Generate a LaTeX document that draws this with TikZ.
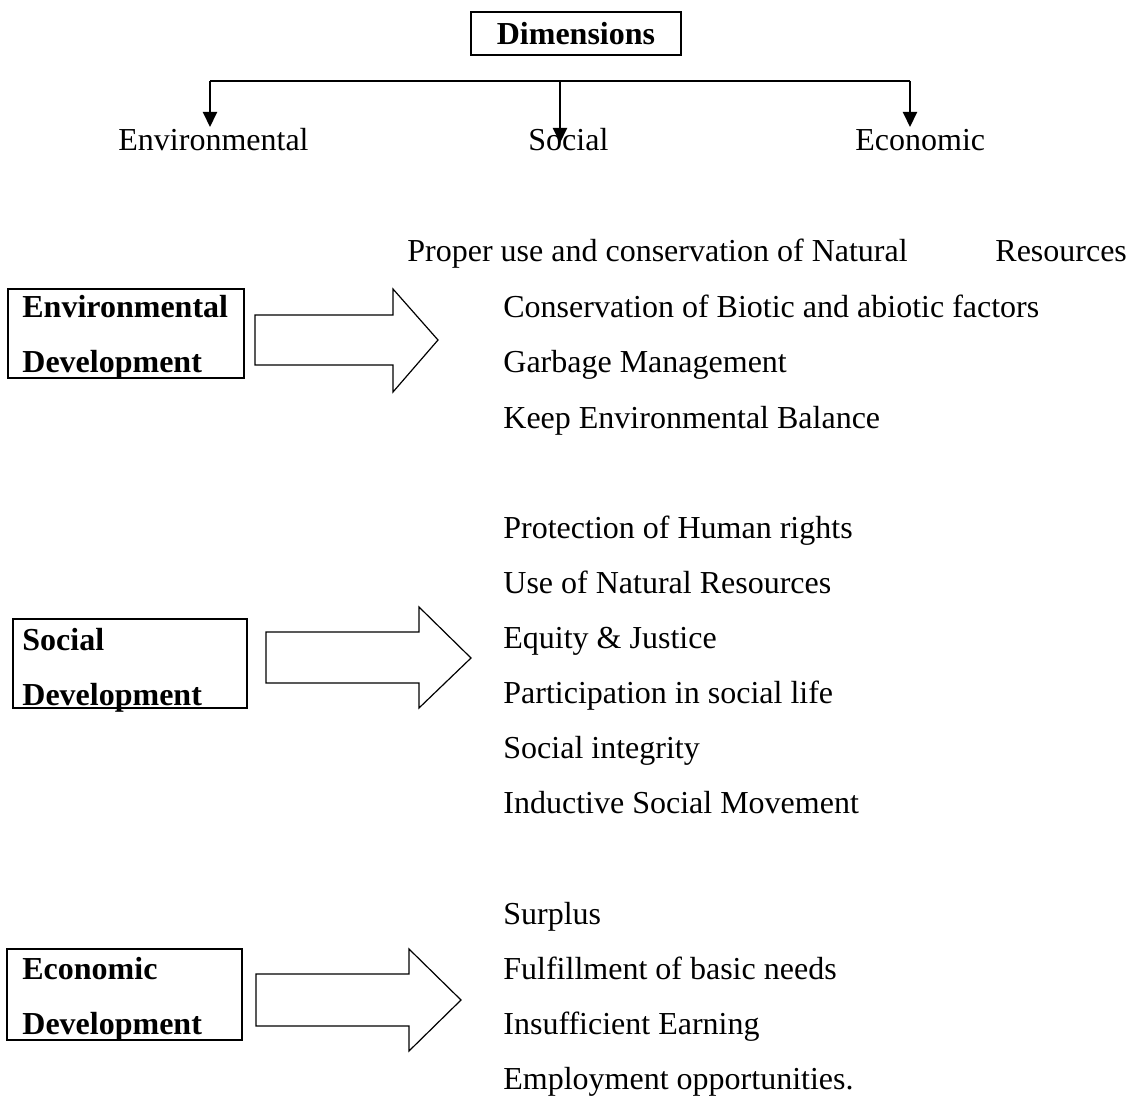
\documentclass[tikz,border=0pt]{standalone}
\usepackage{fontspec}
\setmainfont{Liberation Serif}
\usetikzlibrary{arrows.meta}
\begin{document}
\begin{tikzpicture}[x=0.5pt,y=-0.5pt,
  txt/.style={inner sep=0pt, anchor=base west, font=\fontsize{16}{19}\selectfont},
  btxt/.style={inner sep=0pt, anchor=base west, font=\fontsize{16}{19}\selectfont\bfseries},
  frame/.style={draw, line width=0.75pt},
  conn/.style={line width=1pt, -{Triangle[width=7pt,length=7.5pt]}},
  bar/.style={line width=1pt},
  blockarrow/.style={draw, line width=0.6pt, line join=miter}]
\useasboundingbox (0,0) rectangle (1136,1097);

% top
\node[frame, inner sep=0pt, minimum width=105pt, minimum height=21.5pt,
      font=\fontsize{16}{19}\selectfont\bfseries] (dim) at (576,33.5) {Dimensions};
\coordinate (bl) at (210,81);
\coordinate (bm) at (560,81);
\coordinate (br) at (910,81);
\coordinate (tl) at (210,127);
\coordinate (tm) at (560,143);
\coordinate (tr) at (910,127);
\node[txt] (envd) at (118,151) {Environmental};
\node[txt] (socd) at (528,151) {Social};
\node[txt] (ecod) at (855,151) {Economic};
\draw[bar] (bl) -- (br);
\draw[conn] (bl) -- (tl);
\draw[conn] (bm) -- (tm);
\draw[conn] (br) -- (tr);

% environmental
\draw[frame] (8,289) rectangle (244,378);
\node[btxt] (e1) at (22,317) {Environmental};
\node[btxt] (e2) at (22,372) {Development};
\draw[blockarrow] (255,315) -- (393,315) -- (393,289) -- (438,340) -- (393,392) -- (393,365) -- (255,365) -- cycle;
\node[txt] (p1) at (407,262) {Proper use and conservation of Natural};
\node[txt] (p1b) at (995,262) {Resources};
\node[txt] (p2) at (503,317) {Conservation of Biotic and abiotic factors};
\node[txt] (p3) at (503,372) {Garbage Management};
\node[txt] (p4) at (503,428) {Keep Environmental Balance};

% social
\draw[frame] (13,619) rectangle (247,708);
\node[btxt] (s1) at (22,650) {Social};
\node[btxt] (s2) at (22,705) {Development};
\draw[blockarrow] (266,632) -- (419,632) -- (419,607) -- (471,658) -- (419,708) -- (419,683) -- (266,683) -- cycle;
\node[txt] (q1) at (503,538) {Protection of Human rights};
\node[txt] (q2) at (503,593) {Use of Natural Resources};
\node[txt] (q3) at (503,648) {Equity \& Justice};
\node[txt] (q4) at (503,703) {Participation in social life};
\node[txt] (q5) at (503,758) {Social integrity};
\node[txt] (q6) at (503,813) {Inductive Social Movement};

% economic
\draw[frame] (7,949) rectangle (242,1040);
\node[btxt] (c1) at (22,979) {Economic};
\node[btxt] (c2) at (22,1034) {Development};
\draw[blockarrow] (256,974) -- (409,974) -- (409,949) -- (461,1000) -- (409,1051) -- (409,1026) -- (256,1026) -- cycle;
\node[txt] (r1) at (503,924) {Surplus};
\node[txt] (r2) at (503,979) {Fulfillment of basic needs};
\node[txt] (r3) at (503,1034) {Insufficient Earning};
\node[txt] (r4) at (503,1089) {Employment opportunities.};
\end{tikzpicture}
\end{document}
